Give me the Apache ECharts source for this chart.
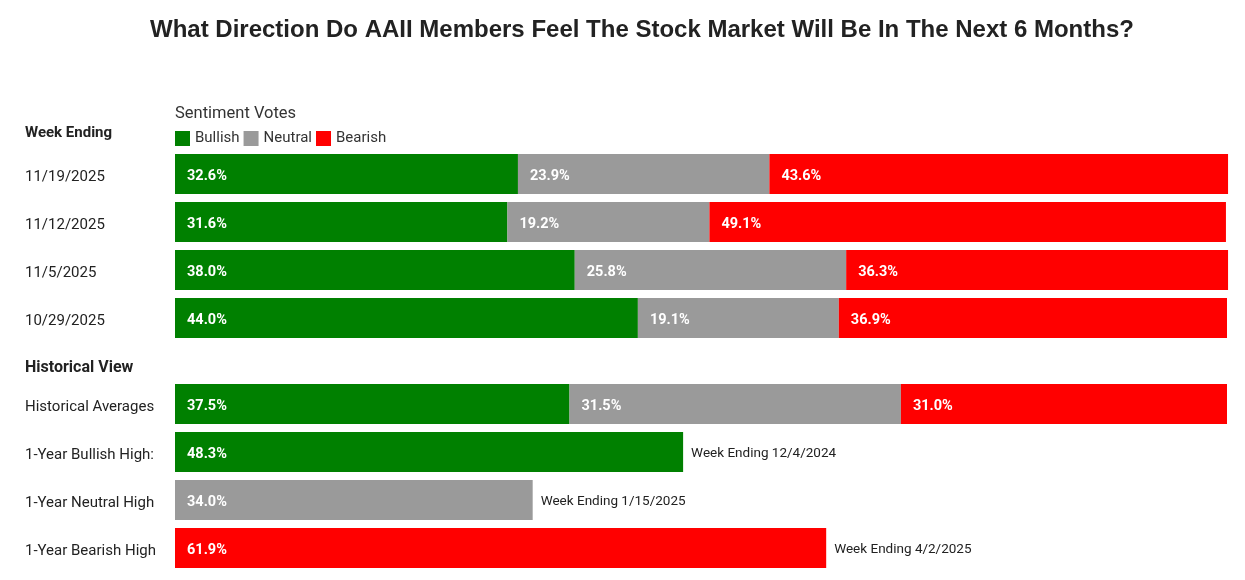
<!DOCTYPE html>
<html>
<head>
<meta charset="utf-8">
<script src="https://cdn.jsdelivr.net/npm/echarts@6/dist/echarts.min.js"></script>
<style>
html,body{margin:0;padding:0;background:#fff;}
#chart{width:1245px;height:580px;}
</style>
</head>
<body>
<div id="chart"></div>
<script>
var weekLabels = ['11/19/2025', '11/12/2025', '11/5/2025', '10/29/2025'];
var weekBullish = [32.6, 31.6, 38.0, 44.0];
var weekNeutral = [23.9, 19.2, 25.8, 19.1];
var weekBearish = [43.6, 49.1, 36.3, 36.9];

var histLabels = ['Historical Averages', '1-Year Bullish High:', '1-Year Neutral High', '1-Year Bearish High'];
var histBullish = [37.5, 48.3, null, null];
var histNeutral = [31.5, null, 34.0, null];
var histBearish = [31.0, null, null, 61.9];
var histNoteValues = [null, 48.3, 34.0, 61.9];
var histNotes = ['', 'Week Ending 12/4/2024', 'Week Ending 1/15/2025', 'Week Ending 4/2/2025'];

var FONT = 'Roboto';
var GREEN = '#008000', GRAY = '#9a9a9a', RED = '#ff0000';

function pctLabel() {
  return {
    show: true, position: 'insideLeft', distance: 12, offset: [0, 2],
    color: '#fff', fontWeight: 'bold', fontSize: 14.5, fontFamily: FONT,
    formatter: function (p) { return p.value == null ? '' : p.value.toFixed(1) + '%'; }
  };
}
function barSeries(name, data, color, axisIdx, stack) {
  return {
    name: name, type: 'bar', stack: stack, data: data,
    xAxisIndex: axisIdx, yAxisIndex: axisIdx,
    barWidth: 40, clip: false,
    itemStyle: { color: color },
    label: pctLabel(),
    emphasis: { disabled: true }
  };
}
function catLabel() {
  return {
    align: 'left', margin: 150,
    formatter: function (v) { return '{a|' + v + '}'; },
    rich: { a: { fontFamily: FONT, fontSize: 15, color: '#222', padding: [6, 0, 0, 0] } }
  };
}

var chart = echarts.init(document.getElementById('chart'));
var option = {
  animation: false,
  textStyle: { fontFamily: FONT },
  title: [
    { text: 'What Direction Do AAII Members Feel The Stock Market Will Be In The Next 6 Months?',
      left: 145, top: 13,
      textStyle: { fontFamily: 'Liberation Sans, Arial', fontWeight: 'bold', fontSize: 24, color: '#222' } },
    { text: 'Sentiment Votes', left: 170, top: 100,
      textStyle: { fontFamily: FONT, fontWeight: 'normal', fontSize: 16.5, color: '#333' } },
    { text: 'Week Ending', left: 20, top: 121,
      textStyle: { fontFamily: FONT, fontWeight: 'bold', fontSize: 15, color: '#222' } },
    { text: 'Historical View', left: 20, top: 355,
      textStyle: { fontFamily: FONT, fontWeight: 'bold', fontSize: 16, color: '#222' } }
  ],
  legend: {
    data: ['Bullish', 'Neutral', 'Bearish'],
    left: 175, top: 131, padding: 0,
    icon: 'rect', itemWidth: 15, itemHeight: 15, itemGap: 4,
    textStyle: { fontFamily: FONT, fontSize: 15, color: '#333' },
    selectedMode: false
  },
  grid: [
    { left: 175, top: 150, width: 1052, height: 192 },
    { left: 175, top: 380, width: 1052, height: 192 }
  ],
  xAxis: [
    { type: 'value', gridIndex: 0, min: 0, max: 100, show: false },
    { type: 'value', gridIndex: 1, min: 0, max: 100, show: false }
  ],
  yAxis: [
    { type: 'category', gridIndex: 0, data: weekLabels, inverse: true,
      axisLine: { show: false }, axisTick: { show: false }, splitLine: { show: false },
      axisLabel: catLabel() },
    { type: 'category', gridIndex: 1, data: histLabels, inverse: true,
      axisLine: { show: false }, axisTick: { show: false }, splitLine: { show: false },
      axisLabel: catLabel() }
  ],
  series: [
    barSeries('Bullish', weekBullish, GREEN, 0, 'w'),
    barSeries('Neutral', weekNeutral, GRAY, 0, 'w'),
    barSeries('Bearish', weekBearish, RED, 0, 'w'),
    {
      name: 'Note', type: 'bar', data: histNoteValues,
      xAxisIndex: 1, yAxisIndex: 1, barWidth: 40, barGap: '-100%', z: 1, silent: true,
      itemStyle: { color: 'rgba(0,0,0,0)' },
      label: {
        show: true, position: 'right', distance: 8, offset: [0, 2],
        fontFamily: FONT, fontSize: 13.5, color: '#222',
        formatter: function (p) { return histNotes[p.dataIndex]; }
      }
    },
    barSeries('Bullish', histBullish, GREEN, 1, 'h'),
    barSeries('Neutral', histNeutral, GRAY, 1, 'h'),
    barSeries('Bearish', histBearish, RED, 1, 'h')
  ]
};
chart.setOption(option);
</script>
</body>
</html>
